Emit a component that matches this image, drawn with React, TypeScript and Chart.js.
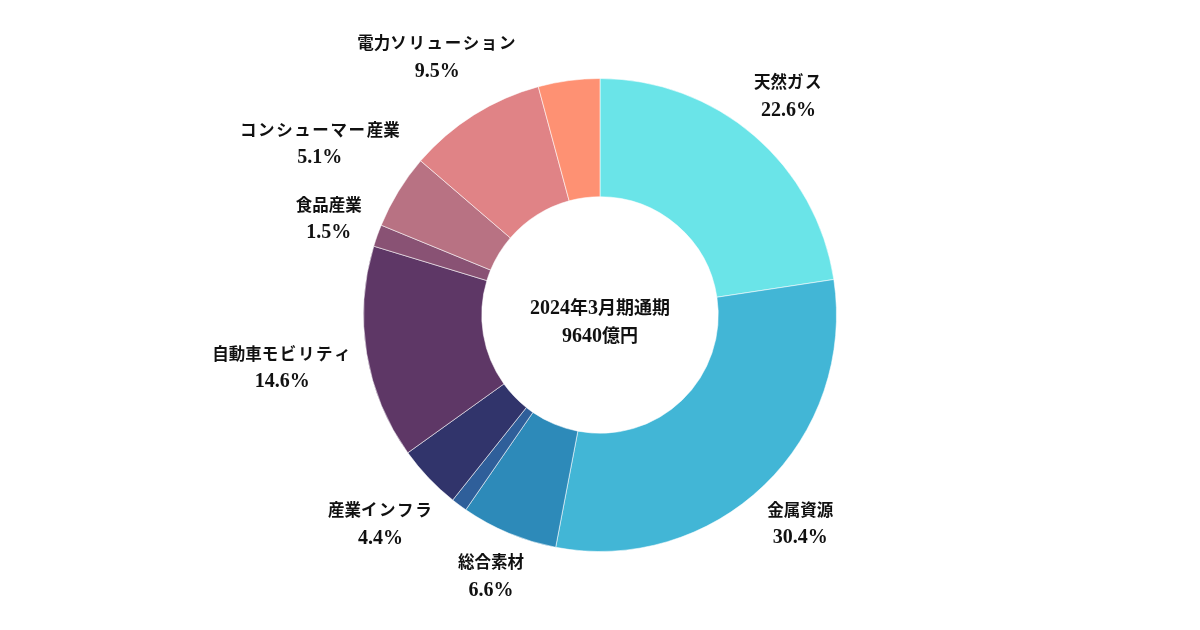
import React, { useEffect, useRef } from "react";
import { Chart, registerables } from "chart.js";

Chart.register(...registerables);

const categories = ["天然ガス", "金属資源", "総合素材", "", "産業インフラ", "自動車モビリティ", "食品産業", "コンシューマー産業", "電力ソリューション", ""];
const shares = [22.6, 30.4, 6.6, 1.1, 4.4, 14.6, 1.5, 5.1, 9.5, 4.2];
const colors = ["#6ae4e8", "#42b6d6", "#2d8ab9", "#2f5f9a", "#31346b", "#5e3766", "#895274", "#b87283", "#e08386", "#fe9173"];
const centerLines = ["2024年3月期通期", "9640億円"];

const LATIN = "'Liberation Serif', serif";
const CJK = "'Noto Sans CJK JP', sans-serif";

function runs(text: string) {
  return text.match(/[\x00-\x7F]+|[^\x00-\x7F]+/g) || [];
}

function measureMixed(ctx: any, text: string, cjkSize: number, latSize: number, kanaSpacing: number) {
  let w = 0;
  for (const r of runs(text)) {
    const latin = /^[\x00-\x7F]/.test(r);
    ctx.font = latin ? `bold ${latSize}px ${LATIN}` : `bold ${cjkSize}px ${CJK}`;
    w += ctx.measureText(r).width;
    if (!latin) {
      for (const ch of r) if (/[\u30A0-\u30FF]/.test(ch)) w += kanaSpacing;
    }
  }
  return w;
}

function drawMixed(ctx: any, text: string, cx: number, baseY: number, cjkSize: number, latSize: number, kanaSpacing: number) {
  const total = measureMixed(ctx, text, cjkSize, latSize, kanaSpacing);
  let x = cx - total / 2;
  ctx.textAlign = "left";
  ctx.textBaseline = "alphabetic";
  for (const r of runs(text)) {
    const latin = /^[\x00-\x7F]/.test(r);
    if (latin) {
      ctx.font = `bold ${latSize}px ${LATIN}`;
      ctx.fillText(r, x, baseY);
      x += ctx.measureText(r).width;
    } else {
      ctx.font = `bold ${cjkSize}px ${CJK}`;
      for (const ch of r) {
        ctx.fillText(ch, x, baseY);
        x += ctx.measureText(ch).width;
        if (/[\u30A0-\u30FF]/.test(ch)) x += kanaSpacing;
      }
    }
  }
}

const labelPlugin = {
  id: "outerLabels",
  afterDatasetsDraw(chart: any) {
    const ctx = chart.ctx;
    const meta = chart.getDatasetMeta(0);
    ctx.save();
    ctx.fillStyle = "#111";
    const CS = 16.5, LS = 20, KS = 1.6;
    meta.data.forEach((arc: any, i: number) => {
      const name = categories[i];
      if (!name) return;
      const p = arc.getProps(["x", "y", "startAngle", "endAngle", "outerRadius"], true);
      const mid = (p.startAngle + p.endAngle) / 2;
      const ux = Math.cos(mid);
      const uy = Math.sin(mid);
      const pct = shares[i].toFixed(1) + "%";
      const w = Math.max(measureMixed(ctx, name, CS, LS, KS), measureMixed(ctx, pct, CS, LS, KS));
      const hw = w / 2;
      const hh = 23;
      const D = p.outerRadius + 13;
      const dist = (t: number) => {
        const cx = ux * t, cy = uy * t;
        const dx = Math.max(Math.abs(cx) - hw, 0);
        const dy = Math.max(Math.abs(cy) - hh, 0);
        return Math.hypot(dx, dy);
      };
      let lo = 0, hi = 1000;
      for (let k = 0; k < 60; k++) {
        const m = (lo + hi) / 2;
        if (dist(m) < D) lo = m; else hi = m;
      }
      const x = p.x + ux * lo;
      const y = p.y + uy * lo;
      drawMixed(ctx, name, x, y - 7.5, CS, LS, KS);
      drawMixed(ctx, pct, x, y + 20, CS, LS, KS);
    });
    const a0 = meta.data[0];
    if (a0) {
      drawMixed(ctx, centerLines[0], a0.x, a0.y - 1, 18, 20, 0);
      drawMixed(ctx, centerLines[1], a0.x, a0.y + 27, 18, 20, 0);
    }
    ctx.restore();
  },
};

export default function App() {
  const ref = useRef<HTMLCanvasElement>(null);
  useEffect(() => {
    document.body.style.margin = "0";
    const chart = new Chart(ref.current as HTMLCanvasElement, {
      type: "doughnut",
      data: {
        labels: categories,
        datasets: [
          {
            data: shares,
            backgroundColor: colors,
            borderColor: "rgba(255,255,255,0.55)",
            borderWidth: 1,
          },
        ],
      },
      options: {
        responsive: false,
        animation: false,
        cutout: "50%",
        layout: { padding: { top: 78, bottom: 78, left: 0, right: 0 } },
        plugins: { legend: { display: false }, tooltip: { enabled: false } },
      },
      plugins: [labelPlugin],
    } as any);
    return () => chart.destroy();
  }, []);
  return (
    <div style={{ position: "absolute", left: 0, top: 0, width: 1200, height: 630, background: "#fff" }}>
      <canvas ref={ref} width={1200} height={630} />
    </div>
  );
}
